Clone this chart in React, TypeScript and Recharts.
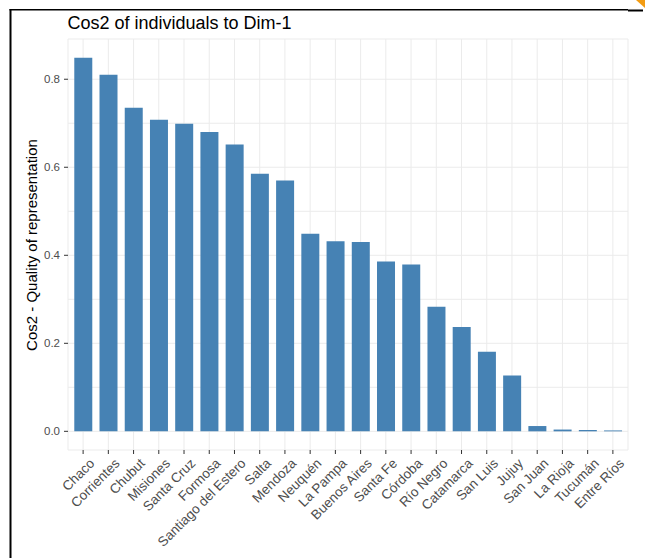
import { Bar, BarChart, CartesianGrid, XAxis, YAxis } from "recharts";

const provinces = [
  "Chaco", "Corrientes", "Chubut", "Misiones", "Santa Cruz", "Formosa",
  "Santiago del Estero", "Salta", "Mendoza", "Neuquén", "La Pampa",
  "Buenos Aires", "Santa Fe", "Córdoba", "Río Negro", "Catamarca",
  "San Luis", "Jujuy", "San Juan", "La Rioja", "Tucumán", "Entre Ríos",
];
const cos2 = [
  0.849, 0.81, 0.735, 0.708, 0.699, 0.68, 0.652, 0.585, 0.57, 0.449, 0.432,
  0.43, 0.386, 0.379, 0.283, 0.237, 0.181, 0.127, 0.012, 0.004, 0.003, 0.002,
];
const yTicks = [0, 0.1, 0.2, 0.3, 0.4, 0.5, 0.6, 0.7, 0.8];
const yLabels = [0, 0.2, 0.4, 0.6, 0.8];

const data = provinces.map((p, i) => ({ province: p, cos2: cos2[i] }));
const maxVal = Math.max(...cos2);
const pad = maxVal * 0.05;

const FONT = "'Liberation Sans', Arial, sans-serif";

const XTick = (props: any) => {
  const { x, y, payload } = props;
  return (
    <g transform={`translate(${x + 5},${y})`}>
      <text
        transform="rotate(-45)"
        textAnchor="end"
        dy="0.75em"
        fontSize={13.5}
        fontFamily={FONT}
        fill="#4d4d4d"
      >
        {payload.value}
      </text>
    </g>
  );
};

const YTick = (props: any) => {
  const { x, y, payload } = props;
  const v = Math.round(payload.value * 10) / 10;
  if (!yLabels.includes(v)) return <g />;
  return (
    <g>
      <line x1={x + 4} x2={x + 8} y1={y} y2={y} stroke="#333" strokeWidth={1} />
      <text
        x={x}
        y={y}
        dy="0.35em"
        textAnchor="end"
        fontSize={11.5}
        fontFamily={FONT}
        fill="#4d4d4d"
      >
        {v.toFixed(1)}
      </text>
    </g>
  );
};

export default function App() {
  return (
    <div style={{ position: "absolute", left: 0, top: 0, width: 645, height: 558, background: "#fff" }}>
      <BarChart
        width={645}
        height={558}
        data={data}
        margin={{ top: 39, right: 17, bottom: 0, left: 0 }}
        barCategoryGap="15%"
      >
        <CartesianGrid stroke="#ebebeb" strokeWidth={1} />
        <XAxis
          dataKey="province"
          interval={0}
          padding={{ left: 2.5, right: 2.5 }}
          axisLine={false}
          tickLine={{ stroke: "#333" }}
          tickSize={4}
          tickMargin={3}
          height={108}
          tick={<XTick />}
        />
        <YAxis
          type="number"
          domain={[-pad, maxVal + pad]}
          ticks={yTicks}
          allowDataOverflow
          axisLine={false}
          tickLine={false}
          tickSize={4}
          tickMargin={4}
          width={68}
          tick={<YTick />}
        />
        <Bar dataKey="cos2" fill="#4682B4" isAnimationActive={false} />
      </BarChart>
      <svg
        width={645}
        height={558}
        style={{ position: "absolute", left: 0, top: 0, pointerEvents: "none" }}
      >
        <text x={67.5} y={29} fontSize={18} fontFamily={FONT} fill="#000">
          Cos2 of individuals to Dim-1
        </text>
        <text
          transform="translate(37,245) rotate(-90)"
          textAnchor="middle"
          fontSize={15}
          fontFamily={FONT}
          fill="#000"
        >
          Cos2 - Quality of representation
        </text>
        <rect x={9.5} y={9} width={2} height={549} fill="#000" />
        <rect x={9.5} y={9} width={618.5} height={1.5} fill="#000" />
        <rect x={628} y={9.5} width={15} height={2} fill="#000" />
        <polygon points="636,0 645,0 645,8" fill="#f39c12" />
      </svg>
    </div>
  );
}
